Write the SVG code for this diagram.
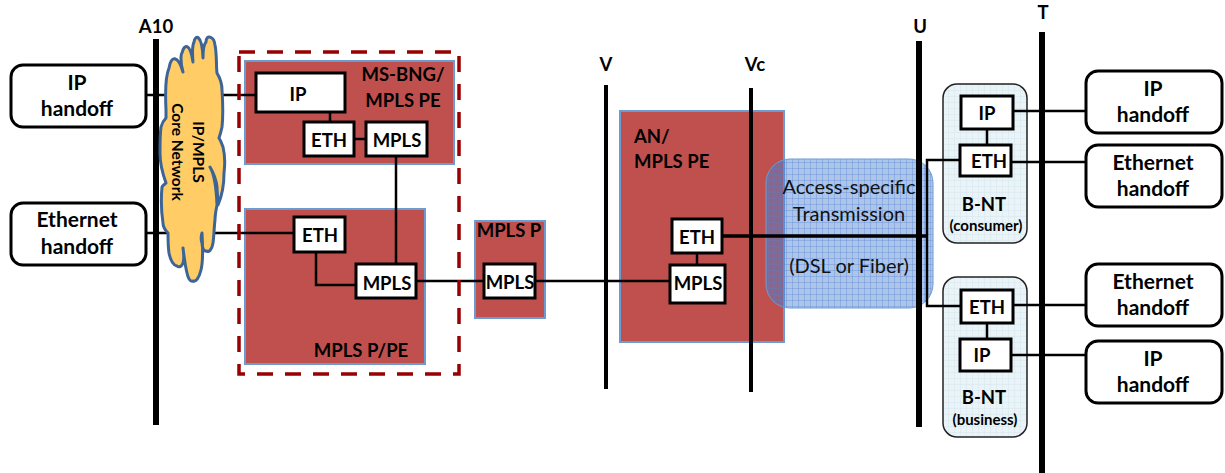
<svg xmlns="http://www.w3.org/2000/svg" width="1225" height="473" viewBox="0 0 1225 473">
<style>
text{font-family:Lato,"Liberation Sans",sans-serif;font-weight:700;fill:#000;text-anchor:middle}
.t{font-size:18.5px}
.h{font-size:21px}
.a{font-size:20px;font-weight:400;fill:#111}
.c{font-size:15.5px}
.s{font-size:15px}
.red{fill:#C0504D;stroke:#6C9BD2;stroke-width:2}
.box{fill:#fff;stroke:#000;stroke-width:3}
.hand{fill:#fff;stroke:#000;stroke-width:3}
.bar{fill:#000}
.ln{fill:none;stroke:#000;stroke-width:2.5}
.bnt{fill:url(#fine);stroke:#222;stroke-width:1.5}
</style>
<defs>
<pattern id="grid" width="6" height="6" patternUnits="userSpaceOnUse"><rect width="6" height="6" fill="#4F81D0" fill-opacity=".46"/><path d="M0 0H6M0 0V6" stroke="#4F81D0" stroke-opacity=".65" stroke-width="1" fill="none"/></pattern>
<pattern id="fine" width="6" height="6" patternUnits="userSpaceOnUse"><rect width="6" height="6" fill="#EAF4F8"/><path d="M0 0H6M0 0V6" stroke="#D5E5EC" stroke-width="1" fill="none"/></pattern>
</defs>
<g id="node-ms-bng"><rect class="red" x="245" y="61" width="209" height="103"/><text class="t" x="403" y="81">MS-BNG/</text><text class="t" x="403" y="107">MPLS PE</text></g>
<g id="node-mpls-p-pe"><rect class="red" x="245" y="209" width="180" height="155"/><text class="t" x="361" y="357">MPLS P/PE</text></g>
<g id="node-mpls-p"><rect class="red" x="475" y="221" width="70" height="97"/><text class="t" x="509" y="237">MPLS P</text></g>
<g id="node-an"><rect class="red" x="620" y="111" width="164" height="231"/><text class="t" x="634" y="143" style="text-anchor:start">AN/</text><text class="t" x="634" y="168" style="text-anchor:start">MPLS PE</text></g>
<g id="node-access"><rect x="766" y="159" width="167" height="149" rx="24" fill="url(#grid)" stroke="#6C9BD2" stroke-width="1"/><text class="a" x="849" y="194">Access-specific</text><text class="a" x="849" y="221">Transmission</text><text class="a" x="849" y="273">(DSL or Fiber)</text></g>
<g id="node-bnt-consumer"><rect class="bnt" x="943" y="84" width="84" height="159" rx="14"/><text class="t" x="984" y="211">B-NT</text><text class="s" x="986" y="231">(consumer)</text></g>
<g id="node-bnt-business"><rect class="bnt" x="943" y="277" width="84" height="160" rx="14"/><text class="t" x="984" y="404">B-NT</text><text class="s" x="985" y="425">(business)</text></g>
<g id="connectors">
<path class="ln" d="M146 95H255M146 233H294M330 112V122M354 139H365M396 156V264M316 252V285H356M416 281H484M535 281H670M697 252V264"/>
<path class="ln" d="M987 129V145M987 323V339M959 160H927V306H961M1013 111H1086M1011 162H1086M1013 305H1086M1011 355H1086"/>
<path class="ln" d="M722 236H927" style="stroke-width:3.5"/>
</g>
<g id="bars">
<rect class="bar" x="153" y="39" width="6" height="386"/>
<rect class="bar" x="604" y="85" width="4" height="304"/>
<rect class="bar" x="749" y="88" width="4" height="304"/>
<rect class="bar" x="916" y="41" width="6" height="386"/>
<rect class="bar" x="1039" y="32" width="6" height="441"/>
</g>
<g id="bar-labels">
<text class="t" x="156" y="33">A10</text>
<text class="t" x="606" y="71">V</text>
<text class="t" x="755" y="71">Vc</text>
<text class="t" x="920" y="33">U</text>
<text class="t" x="1043" y="19">T</text>
</g>
<g id="node-cloud"><path d="M166 110C165 90 166 75 169 68C171 55 178 55 183 72C180 62 181 53 182 53C184 44 190 42 193 62C192 50 193 44 194 42C195 35 202 33 203 58C203 48 204 44 206 42C206 34 214 36 215 45C217 55 216 65 217 73C220 78 222 84 222 90C223 105 223 118 222 127C221 132 220 135 219 138C221 141 222 144 223 147C225 155 225 165 224 173C224 185 221 198 218 205C218 197 217 192 217 187C216 178 213 172 210 167C213 172 216 180 217 205C216 210 215 215 215 220C214 228 214 236 213 243C212 250 208 253 207 251C204 252 202 248 202 243C201 240 201 236 202 233C203 250 203 262 201 270C199 278 196 282 193 281C190 282 188 278 187 273C185 265 184 256 183 248C184 255 184 260 183 263C181 268 178 267 177 266C172 265 170 258 169 253C168 246 168 240 168 233C165 230 163 226 163 223C161 210 161 198 162 187C163 185 165 184 166 183C162 172 160 163 160 153C160 143 160 134 161 127C162 123 164 120 166 118C166 115 166 112 166 110Z" fill="#FFCC66" stroke="#3D6496" stroke-width="3" stroke-linejoin="round"/><text class="c" transform="translate(193 152) rotate(90)">IP/MPLS</text><text class="c" transform="translate(172 152) rotate(90)">Core Network</text></g>
<g id="node-ip-a"><rect class="box" x="256" y="73" width="89" height="39"/><text class="t" x="298" y="101">IP</text></g>
<g id="node-eth-a"><rect class="box" x="304" y="122" width="50" height="34"/><text class="t" x="329" y="147">ETH</text></g>
<g id="node-mpls-a"><rect class="box" x="366" y="122" width="61" height="34"/><text class="t" x="397" y="147">MPLS</text></g>
<g id="node-eth-b"><rect class="box" x="294" y="217" width="51" height="35"/><text class="t" x="320" y="242">ETH</text></g>
<g id="node-mpls-b"><rect class="box" x="356" y="264" width="60" height="34"/><text class="t" x="387" y="290">MPLS</text></g>
<g id="node-mpls-c"><rect class="box" x="484" y="264" width="51" height="34"/><text class="t" x="510" y="289">MPLS</text></g>
<g id="node-eth-d"><rect class="box" x="672" y="219" width="50" height="34"/><text class="t" x="697" y="244">ETH</text></g>
<g id="node-mpls-d"><rect class="box" x="670" y="265" width="55" height="38"/><text class="t" x="698" y="290">MPLS</text></g>
<g id="node-ip-e"><rect class="box" x="961" y="96" width="52" height="33"/><text class="t" x="987" y="120">IP</text></g>
<g id="node-eth-e"><rect class="box" x="960" y="145" width="51" height="31"/><text class="t" x="989" y="168">ETH</text></g>
<g id="node-eth-f"><rect class="box" x="961" y="290" width="52" height="33"/><text class="t" x="987" y="314">ETH</text></g>
<g id="node-ip-f"><rect class="box" x="960" y="339" width="51" height="32"/><text class="t" x="982" y="362">IP</text></g>
<g id="node-hand-1"><rect class="hand" x="11" y="65" width="135" height="62" rx="12"/><text class="h" x="77" y="90">IP</text><text class="h" x="77" y="116">handoff</text></g>
<g id="node-hand-2"><rect class="hand" x="11" y="203" width="135" height="62" rx="12"/><text class="h" x="77" y="227">Ethernet</text><text class="h" x="77" y="254">handoff</text></g>
<g id="node-hand-3"><rect class="hand" x="1086" y="71" width="136" height="62" rx="12"/><text class="h" x="1153" y="96">IP</text><text class="h" x="1153" y="122">handoff</text></g>
<g id="node-hand-4"><rect class="hand" x="1086" y="145" width="136" height="62" rx="12"/><text class="h" x="1153" y="170">Ethernet</text><text class="h" x="1153" y="196">handoff</text></g>
<g id="node-hand-5"><rect class="hand" x="1086" y="264" width="136" height="62" rx="12"/><text class="h" x="1153" y="289">Ethernet</text><text class="h" x="1153" y="315">handoff</text></g>
<g id="node-hand-6"><rect class="hand" x="1086" y="341" width="136" height="62" rx="12"/><text class="h" x="1153" y="366">IP</text><text class="h" x="1153" y="392">handoff</text></g>
<g id="dashed"><rect x="239" y="52" width="220" height="322" fill="none" stroke="#990000" stroke-width="3.5" stroke-dasharray="16 12"/></g>
</svg>
